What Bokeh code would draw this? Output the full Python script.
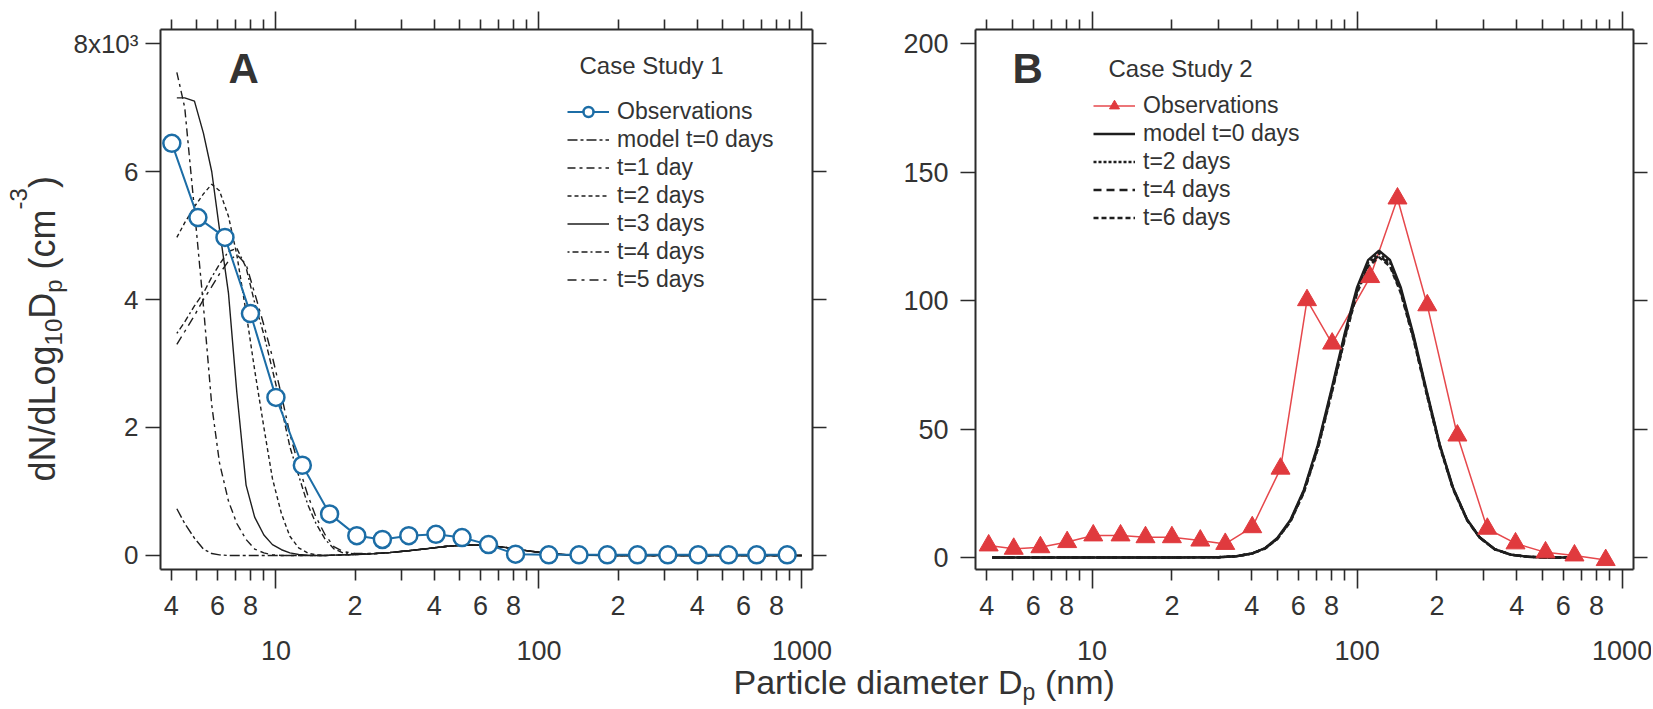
import math
from bokeh.plotting import figure
from bokeh.models import (Range1d, LogAxis, LinearAxis, FixedTicker, Label,
                          Legend, LegendItem, LogScale)
from bokeh.layouts import row, column
from bokeh.embed import file_html
from bokeh.resources import INLINE
from bokeh.core.properties import value

FONT = "Liberation Sans"
INK = "#333333"
AX = "#2b2b2b"
MODEL = "#1e1e1e"
BLUE = "#1c6da6"
RED = "#e03a3e"
RED_LINE = "#e6484c"

# ------------------------------------------------------------------ data
# Panel A - Case Study 1 (dN/dlogDp in 10^3 cm^-3)
a_obs_dp = [4.02, 5.05, 6.4, 8.0, 10.0, 12.6, 16.0, 20.3, 25.4, 32.0, 40.6, 51.0,
            64.3, 81.5, 109, 142, 182, 237, 309, 403, 526, 673, 879]
a_obs_n = [6.44, 5.28, 4.97, 3.78, 2.47, 1.41, 0.65, 0.31, 0.25, 0.31, 0.33, 0.28,
           0.17, 0.02, 0.01, 0.01, 0.01, 0.01, 0.01, 0.01, 0.01, 0.01, 0.01]

a_model_dp = [4.2, 4.5, 4.9, 5.3, 5.7, 6.1, 6.6, 7.1, 7.7, 8.3, 9.0, 9.7, 10.5, 11.3,
              12.2, 13.2, 14.2, 15.4, 16.6, 18, 20, 23, 27, 32, 38, 45, 53, 63, 75,
              90, 107, 127, 150, 180, 215, 260, 320, 400, 500, 640, 800, 1000]
a_t0 = [0.73, 0.50, 0.27, 0.10, 0.03, 0.01, 0, 0, 0, 0, 0, 0, 0, 0, 0, 0, 0, 0,
        0.005, 0.01, 0.015, 0.025, 0.045, 0.075, 0.11, 0.145, 0.165, 0.16, 0.125,
        0.075, 0.035, 0.012, 0.004, 0, 0, 0, 0, 0, 0, 0, 0, 0]
a_t1 = [7.55, 7.0, 5.4, 3.9, 2.35, 1.45, 0.85, 0.5, 0.25, 0.1, 0.04, 0.01, 0, 0, 0, 0, 0, 0,
        0.005, 0.01, 0.015, 0.025, 0.045, 0.075, 0.11, 0.145, 0.165, 0.16, 0.125,
        0.075, 0.035, 0.012, 0.004, 0, 0, 0, 0, 0, 0, 0, 0, 0]
a_t2 = [4.97, 5.2, 5.45, 5.65, 5.8, 5.7, 5.3, 4.7, 3.8, 2.9, 2.0, 1.2, 0.65, 0.3, 0.12, 0.04, 0.01, 0,
        0.005, 0.01, 0.015, 0.025, 0.045, 0.075, 0.11, 0.145, 0.165, 0.16, 0.125,
        0.075, 0.035, 0.012, 0.004, 0, 0, 0, 0, 0, 0, 0, 0, 0]
a_t3 = [7.15, 7.15, 7.1, 6.6, 6.0, 5.1, 4.1, 2.55, 1.1, 0.6, 0.32, 0.17, 0.09, 0.04, 0.015, 0.005, 0, 0,
        0.005, 0.01, 0.015, 0.025, 0.045, 0.075, 0.11, 0.145, 0.165, 0.16, 0.125,
        0.075, 0.035, 0.012, 0.004, 0, 0, 0, 0, 0, 0, 0, 0, 0]
a_t4 = [3.47, 3.65, 3.9, 4.1, 4.35, 4.55, 4.75, 4.8, 4.5, 3.95, 3.45, 2.9, 2.3, 1.7, 1.25, 0.8, 0.5, 0.25,
        0.105, 0.04, 0.025, 0.03, 0.045, 0.075, 0.11, 0.145, 0.165, 0.16, 0.125,
        0.075, 0.035, 0.012, 0.004, 0, 0, 0, 0, 0, 0, 0, 0, 0]
a_t5 = [3.3, 3.5, 3.75, 4.0, 4.2, 4.4, 4.6, 4.7, 4.55, 4.1, 3.6, 3.1, 2.5, 1.9, 1.4, 0.95, 0.6, 0.32,
        0.14, 0.06, 0.03, 0.03, 0.045, 0.075, 0.11, 0.145, 0.165, 0.16, 0.125,
        0.075, 0.035, 0.012, 0.004, 0, 0, 0, 0, 0, 0, 0, 0, 0]
a_model_series = [a_t0, a_t1, a_t2, a_t3, a_t4, a_t5]
a_model_names = ["model t=0 days", "t=1 day", "t=2 days", "t=3 days", "t=4 days", "t=5 days"]

# Panel B - Case Study 2 (dN/dlogDp in cm^-3)
b_obs_dp = [4.07, 5.06, 6.38, 8.05, 10.1, 12.8, 15.9, 20.0, 25.6, 31.8, 40.2, 51.4,
            64.7, 80.5, 112, 142, 184, 239, 310, 396, 514, 661, 867]
b_obs_n = [4.7, 3.4, 4.0, 6.0, 8.6, 8.6, 7.9, 7.9, 6.6, 5.3, 11.8, 34.6,
           100.2, 83.3, 109.2, 139.8, 98.2, 47.5, 11.2, 5.5, 2.0, 0.8, -1.0]

b_model_dp = [4.2, 10, 20, 30, 35, 40, 45, 50, 56, 63, 71, 80, 90, 100, 110, 121, 133,
              146, 163, 183, 205, 230, 260, 290, 330, 380, 440, 520, 700]
b_t0 = [0, 0, 0, 0.12, 0.5, 1.56, 3.7, 7.6, 14.6, 26.4, 43.7, 65.4, 87.7, 105.3, 115.8,
        119.5, 115.9, 105.3, 86.9, 64.9, 44.1, 27.3, 14.8, 7.9, 3.3, 1.1, 0.3, 0, 0]
b_t2 = [0, 0, 0, 0.12, 0.5, 1.5, 3.6, 7.4, 14.3, 26.0, 43.0, 64.6, 86.8, 104.3, 114.8,
        118.4, 114.9, 104.4, 86.2, 64.4, 43.8, 27.1, 14.7, 7.8, 3.3, 1.1, 0.3, 0, 0]
b_t4 = [0, 0, 0, 0.12, 0.5, 1.5, 3.6, 7.3, 14.1, 25.7, 42.6, 64.0, 86.1, 103.6, 114.0,
        117.6, 114.1, 103.7, 85.7, 64.0, 43.5, 26.9, 14.6, 7.8, 3.3, 1.1, 0.3, 0, 0]
b_t6 = [0, 0, 0, 0.12, 0.5, 1.5, 3.5, 7.2, 13.9, 25.4, 42.2, 63.5, 85.5, 103.0, 113.3,
        116.9, 113.4, 103.1, 85.2, 63.6, 43.2, 26.7, 14.5, 7.7, 3.2, 1.1, 0.3, 0, 0]
b_model_series = [b_t0, b_t2, b_t4, b_t6]
b_model_names = ["model t=0 days", "t=2 days", "t=4 days", "t=6 days"]

# ticks
x_ticks = [4, 5, 6, 7, 8, 9, 20, 30, 40, 50, 60, 70, 80, 90,
           200, 300, 400, 500, 600, 700, 800, 900]
x_tick_labels = ["4", "", "6", "", "8", "", "2", "", "4", "", "6", "", "8", "",
                 "2", "", "4", "", "6", "", "8", ""]
x_decades = [10, 100, 1000]
x_decade_labels = ["10", "100", "1000"]
a_y_ticks = [0, 2, 4, 6, 8]
a_y_labels = ["0", "2", "4", "6", "8x10\u00b3"]
b_y_ticks = [0, 50, 100, 150, 200]
b_y_labels = ["0", "50", "100", "150", "200"]

# styles (not data)
a_dashes = ["10 3 3 3", "8 4 3 4", "4 3", "solid", "2 3 6 3 6 3", "9 5 3 5"]
b_dashes = ["solid", "3 2", "8 5", "5 3"]

# ------------------------------------------------------------------ geometry
FRAME_H = 540
TOP = 29
BOTTOM = 60
ROW_H = TOP + FRAME_H + BOTTOM        # 629
YLAB_W = 70
A_XR, A_YR = (3.64, 1097), (-0.219, 8.219)
B_XR, B_YR = (3.63, 1104), (-4.67, 205.6)
A_BL, A_FW, A_BR = 90, 652, 38
B_BL, B_FW, B_BR = 125, 658, 18
A_W = A_BL + A_FW + A_BR
B_W = B_BL + B_FW + B_BR
TOTAL_W = YLAB_W + A_W + B_W
XL_H = 709 - ROW_H                    # 80
A_LEFT = YLAB_W + A_BL
B_LEFT = YLAB_W + A_W + B_BL
BASE_SHIFT = 0.36                     # Label "alphabetic" anchor offset (em)


# ------------------------------------------------------------------ helpers
def style_axis(ax, tick_out, minor_out=0, standoff=0, fs="27px"):
    ax.axis_line_color = AX
    ax.axis_line_width = 2
    ax.major_tick_line_color = AX
    ax.major_tick_line_width = 1.6
    ax.minor_tick_line_color = AX
    ax.minor_tick_line_width = 1.6
    ax.major_tick_in = 0
    ax.major_tick_out = tick_out
    ax.minor_tick_in = 0
    ax.minor_tick_out = minor_out
    ax.major_label_standoff = standoff
    ax.major_label_text_font = FONT
    ax.major_label_text_font_size = fs
    ax.major_label_text_color = INK


def make_panel(xr, yr, fw, bl, br, y_ticks, y_labels, y_standoff, y_fs):
    p = figure(frame_width=fw, frame_height=FRAME_H, x_axis_type="log",
               x_range=Range1d(*xr), y_range=Range1d(*yr),
               min_border_left=bl, min_border_right=br,
               min_border_top=TOP, min_border_bottom=BOTTOM,
               output_backend="svg", toolbar_location=None)
    p.outline_line_color = None
    p.xgrid.visible = False
    p.ygrid.visible = False
    p.background_fill_color = "white"
    p.border_fill_color = "white"

    xa = p.xaxis[0]
    xa.ticker = FixedTicker(ticks=x_ticks, minor_ticks=x_decades)
    xa.major_label_overrides = dict(zip(x_ticks, x_tick_labels))
    style_axis(xa, 11, 19, 7)

    xt = LogAxis(ticker=FixedTicker(ticks=x_ticks, minor_ticks=x_decades),
                 major_label_overrides={t: "" for t in x_ticks})
    style_axis(xt, 10, 18, 0, "0px")
    p.add_layout(xt, "above")

    ya = p.yaxis[0]
    ya.ticker = FixedTicker(ticks=y_ticks, minor_ticks=[])
    ya.major_label_overrides = dict(zip(y_ticks, y_labels))
    style_axis(ya, 15, 0, y_standoff, y_fs)

    yr_ax = LinearAxis(ticker=FixedTicker(ticks=y_ticks, minor_ticks=[]),
                       major_label_overrides={t: "" for t in y_ticks})
    style_axis(yr_ax, 14, 0, 0, "0px")
    p.add_layout(yr_ax, "right")
    return p


def clean(f):
    f.outline_line_color = None
    f.xgrid.visible = False
    f.ygrid.visible = False
    f.background_fill_color = "white"
    f.border_fill_color = "white"
    return f


def add_label(p, text, x, y, size_px, rotated=False, align="left", bold=False, units="screen"):
    """x, y give the wanted text baseline position."""
    shift = BASE_SHIFT * size_px
    if rotated:
        x, angle = x - shift, math.pi / 2
    else:
        y, angle = y + shift, 0.0
    p.add_layout(Label(x=x, y=y, x_units=units, y_units=units, text=text,
                       angle=angle, text_align=align, text_baseline="alphabetic",
                       text_font=FONT, text_font_size=f"{size_px}px", text_color=INK,
                       text_font_style="bold" if bold else "normal"))


def style_legend(leg):
    leg.label_text_font = FONT
    leg.label_text_font_size = "23px"
    leg.label_text_color = INK
    leg.glyph_width = 42
    leg.glyph_height = 25
    leg.label_height = 25
    leg.label_standoff = 8
    leg.spacing = 1
    leg.padding = 0
    leg.margin = 0
    leg.border_line_color = None
    leg.background_fill_alpha = 0


FB = TOP + FRAME_H   # page y of the frame bottom (569)

# ------------------------------------------------------------------ panel A
pA = make_panel(A_XR, A_YR, A_FW, A_BL, A_BR, a_y_ticks, a_y_labels, 7, "26px")

model_rs = []
for ser, dash in zip(a_model_series, a_dashes):
    r = pA.line(a_model_dp, ser, line_color=MODEL, line_width=1.4, line_dash=dash)
    model_rs.append(r)
obs_l = pA.line(a_obs_dp, a_obs_n, line_color=BLUE, line_width=2)
obs_s = pA.scatter(a_obs_dp, a_obs_n, marker="circle", size=17, line_color=BLUE,
                   line_width=2.5, fill_color="white")
a_items = [LegendItem(label="Observations", renderers=[obs_l, obs_s])]
for name, r in zip(a_model_names, model_rs):
    a_items.append(LegendItem(label=name, renderers=[r]))
legA = Legend(items=a_items, location=(407, 276))
style_legend(legA)
pA.add_layout(legA)

add_label(pA, "Case Study 1", 419, FB - 74, 24)
add_label(pA, "A", 68, FB - 83, 42, bold=True)

# ------------------------------------------------------------------ panel B
pB = make_panel(B_XR, B_YR, B_FW, B_BL, B_BR, b_y_ticks, b_y_labels, 12, "27px")

obs_bl = pB.line(b_obs_dp, b_obs_n, line_color=RED_LINE, line_width=1.5)
b_rs = []
for ser, dash in zip(b_model_series, b_dashes):
    r = pB.line(b_model_dp, ser, line_color=MODEL, line_width=2.4, line_dash=dash)
    b_rs.append(r)
obs_bs = pB.scatter(b_obs_dp, b_obs_n, marker="triangle", size=19, line_color=RED,
                    fill_color=RED)
b_items = [LegendItem(label="Observations", renderers=[obs_bl, obs_bs])]
for name, r in zip(b_model_names, b_rs):
    b_items.append(LegendItem(label=name, renderers=[r]))
legB = Legend(items=b_items, location=(118, 338))
style_legend(legB)
pB.add_layout(legB)

add_label(pB, "Case Study 2", 133, FB - 77, 24)
add_label(pB, "B", 37, FB - 83, 42, bold=True)

# ------------------------------------------------------------------ y-axis title (rotated pieces)
yl = clean(figure(width=YLAB_W, height=ROW_H, x_range=Range1d(0, YLAB_W),
                  y_range=Range1d(0, FRAME_H),
                  min_border_left=0, min_border_right=0,
                  min_border_top=TOP, min_border_bottom=BOTTOM,
                  x_axis_location=None, y_axis_location=None,
                  output_backend="svg", toolbar_location=None))
add_label(yl, "dN/dLog", 55, FB - 481.0, 36, rotated=True, units="data")
add_label(yl, "10", 62, FB - 344.9, 24, rotated=True, units="data")
add_label(yl, "D", 55, FB - 318.2, 36, rotated=True, units="data")
add_label(yl, "p", 62, FB - 292.2, 24, rotated=True, units="data")
add_label(yl, "(cm", 55, FB - 268.9, 36, rotated=True, units="data")
add_label(yl, "-3", 27, FB - 208.9, 24, rotated=True, units="data")
add_label(yl, ")", 55, FB - 187.6, 36, rotated=True, units="data")


# ------------------------------------------------------------------ decade labels + x-axis title
def span_range(xr, frame_left, frame_w, total_w):
    l0, l1 = math.log10(xr[0]), math.log10(xr[1])
    ppd = frame_w / (l1 - l0)
    return Range1d(10 ** (l0 - frame_left / ppd), 10 ** (l0 + (total_w - frame_left) / ppd))


xl = clean(figure(width=TOTAL_W, height=XL_H, x_axis_type="log",
                  x_range=span_range(A_XR, A_LEFT, A_FW, TOTAL_W),
                  y_range=Range1d(0, XL_H),
                  min_border_left=0, min_border_right=0,
                  min_border_top=0, min_border_bottom=0,
                  x_axis_location=None, y_axis_location=None,
                  output_backend="svg", toolbar_location=None))
xl.extra_x_ranges = {"b": span_range(B_XR, B_LEFT, B_FW, TOTAL_W)}
xl.extra_x_scales = {"b": LogScale()}
DEC_Y = 709 - 650
xl.text(x=x_decades, y=[DEC_Y] * len(x_decades), text=x_decade_labels,
        text_font=value(FONT), text_font_size="27px", text_color=INK,
        text_align="center", text_baseline="middle")
xl.text(x=x_decades, y=[DEC_Y] * len(x_decades), text=x_decade_labels,
        text_font=value(FONT), text_font_size="27px", text_color=INK,
        text_align="center", text_baseline="middle", x_range_name="b")

add_label(xl, "Particle diameter D", 733, 709 - 694, 34)
add_label(xl, "p", 1022.1, 709 - 700, 23)
add_label(xl, "(nm)", 1044.4, 709 - 694, 34)

layout = column(row(yl, pA, pB), xl)
with open("out.html", "w") as f:
    f.write(file_html(layout, INLINE))
